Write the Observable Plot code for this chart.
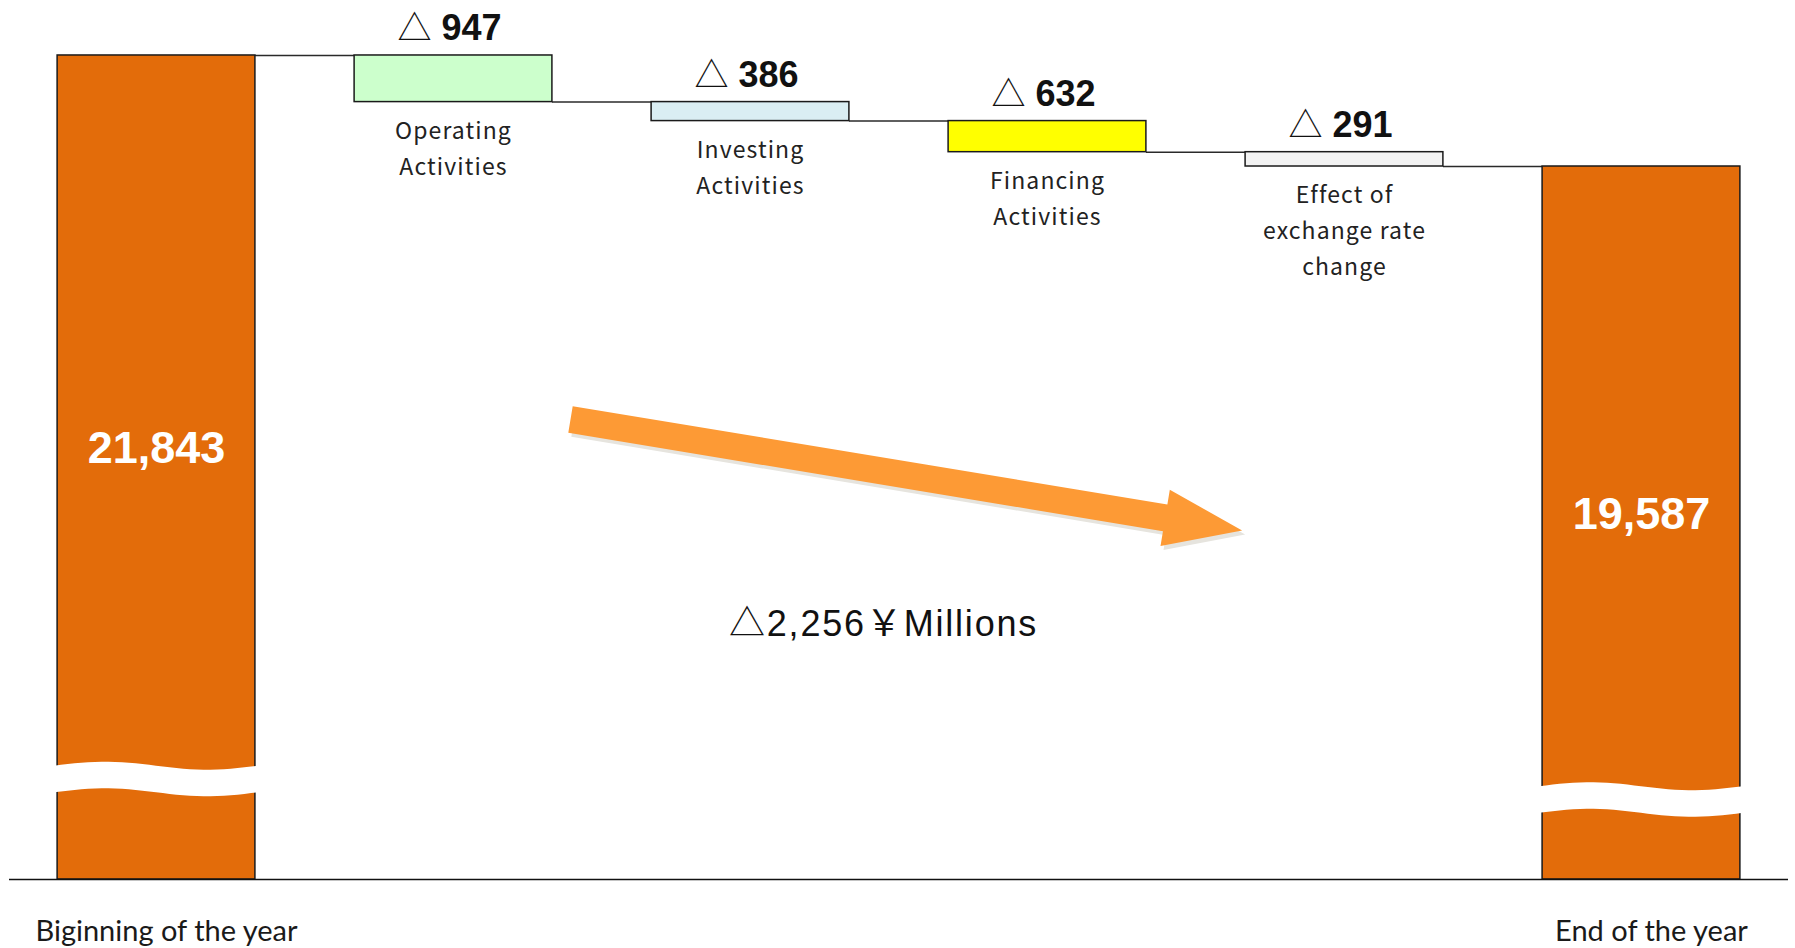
<!DOCTYPE html>
<html>
<head>
<meta charset="utf-8">
<script src="https://cdn.jsdelivr.net/npm/d3@7"></script>
<script src="https://cdn.jsdelivr.net/npm/@observablehq/plot@0.6"></script>
<style>
  html, body { margin: 0; padding: 0; background: #fff; }
</style>
</head>
<body>
<div id="chart"></div>
<script>
// ---------- data ----------
const categories = [
  "Biginning of the year",
  "Operating Activities",
  "Investing Activities",
  "Financing Activities",
  "Effect of exchange rate change",
  "End of the year"
];
const categoryLabels = [
  "Biginning of the year",
  "Operating\nActivities",
  "Investing\nActivities",
  "Financing\nActivities",
  "Effect of\nexchange rate\nchange",
  "End of the year"
];
const openingBalance = 21843;
const changes = [-947, -386, -632, -291];
const closingBalance = 19587;
const unitLabel = "￥Millions";
const minusMark = "△";

// ---------- styles / layout (not data) ----------
const palette = ["#E36C0A", "#CCFFCC", "#DAEEF3", "#FFFF00", "#F2F2F2", "#E36C0A"];
const Y_DOMAIN = [5100, 22960];      // broken value axis
const X_DOMAIN = [-0.495, 5.495];
const HALF = 0.333;                  // half bar width in slot units
const BREAK_LEVELS = {0: 7132, 5: 6715};
const ARROW = {fromX: 1.3956, fromY: 14436, toX: 3.657};
const TOTAL_LABEL_AT = {x: 2.448, y: 10281};

const fmt = d3.format(",");

// ---------- derived tables ----------
let running = openingBalance;
const changeRows = changes.map((c, k) => {
  const top = running;
  running += c;
  return {i: k + 1, name: categories[k + 1], label: categoryLabels[k + 1], top, bottom: running, change: c};
});
const totalRows = [
  {i: 0, name: categories[0], label: categoryLabels[0], value: openingBalance},
  {i: 5, name: categories[5], label: categoryLabels[5], value: closingBalance}
];
const rects = [
  ...totalRows.map(d => ({i: d.i, name: d.name, y1: 0, y2: d.value})),
  ...changeRows.map(d => ({i: d.i, name: d.name, y1: d.bottom, y2: d.top}))
];
const connectors = [
  {from: 0, level: openingBalance},
  ...changeRows.map(d => ({from: d.i, level: d.bottom}))
];
const totalChange = closingBalance - openingBalance;

// break bands (decorative axis-break marks)
function breakBands(index, {x, y}) {
  const g = d3.create("svg:g");
  for (const d of totalRows) {
    const xl = x(d.i - HALF) - 3, xr = x(d.i + HALF) + 3;
    const yc = y(BREAK_LEVELS[d.i]);
    const A = 4, h = 13.3, n = 30;
    const top = [], bot = [];
    for (let k = 0; k <= n; k++) {
      const t = k / n;
      const xx = xl + (xr - xl) * t;
      const w = -A * Math.sin(2 * Math.PI * t);
      top.push([xx, yc - h + w]);
      bot.push([xx, yc + h + w]);
    }
    const pts = top.concat(bot.reverse());
    g.append("path")
      .attr("d", "M" + pts.map(p => p.join(",")).join("L") + "Z")
      .attr("fill", "#fff");
  }
  return g.node();
}

// the big trend arrow
function trendArrow(index, {x, y}) {
  const g = d3.create("svg:g");
  const x0 = x(ARROW.fromX), y0 = y(ARROW.fromY);
  const x1 = x(ARROW.toX), y1 = y(ARROW.fromY + totalChange);
  const dx = x1 - x0, dy = y1 - y0, L = Math.hypot(dx, dy);
  const ux = dx / L, uy = dy / L, nx = -uy, ny = ux;
  const sh = 13.5, hh = 28.5, hl = 78;
  const bx = x1 - ux * hl, by = y1 - uy * hl;
  const pts = [
    [x0 + nx * sh, y0 + ny * sh], [bx + nx * sh, by + ny * sh], [bx + nx * hh, by + ny * hh],
    [x1, y1],
    [bx - nx * hh, by - ny * hh], [bx - nx * sh, by - ny * sh], [x0 - nx * sh, y0 - ny * sh]
  ];
  const d = "M" + pts.map(p => p.join(",")).join("L") + "Z";
  g.append("path").attr("d", d).attr("fill", "#E6E4DE").attr("transform", "translate(3,4)");
  g.append("path").attr("d", d).attr("fill", "#FD9A35");
  return g.node();
}

const chart = Plot.plot({
  width: 1795,
  height: 948,
  marginTop: 0,
  marginBottom: 69,
  marginLeft: 9,
  marginRight: 7,
  x: {type: "linear", domain: X_DOMAIN, axis: null},
  y: {type: "linear", domain: Y_DOMAIN, axis: null, clamp: true},
  color: {type: "ordinal", domain: categories, range: palette},
  marks: [
    Plot.ruleY(connectors, {
      y: "level", x1: d => d.from + HALF, x2: d => d.from + 1 - HALF,
      stroke: "#2a2a2a", strokeWidth: 1.5
    }),
    Plot.rect(rects, {
      x1: d => d.i - HALF, x2: d => d.i + HALF, y1: "y1", y2: "y2",
      fill: "name", stroke: "#1a1a1a", strokeWidth: 1.5
    }),
    Plot.ruleY([0], {stroke: "#111", strokeWidth: 1.5}),
    breakBands,
    trendArrow,
    // [text 0] big totals: centred between the bar top and its axis break
    Plot.text(totalRows, {
      x: "i", y: d => (BREAK_LEVELS[d.i] + d.value) / 2, text: d => fmt(d.value),
      fill: "#fff", fontSize: 45, fontWeight: "bold", fontFamily: "Liberation Sans, Arial, sans-serif", dy: 31
    }),
    // [text 1] period labels under axis
    Plot.text(totalRows, {
      x: "i", y: () => 0, text: "label", dx: 10, dy: 61, lineAnchor: "bottom",
      fill: "#1a1a1a", fontSize: 29, fontFamily: "Lato, sans-serif"
    }),
    // [text 2, 3] change amounts: triangle + number
    Plot.text(changeRows, {
      x: "i", y: "top", text: () => minusMark, textAnchor: "end", lineAnchor: "bottom",
      dx: -22, dy: -15, fill: "#111", fontSize: 34, fontFamily: "Noto Sans CJK JP, sans-serif"
    }),
    Plot.text(changeRows, {
      x: "i", y: "top", text: d => fmt(Math.abs(d.change)), textAnchor: "start", lineAnchor: "bottom",
      dx: -12, dy: -15, fill: "#111", fontSize: 36, fontWeight: "bold", fontFamily: "Liberation Sans, Arial, sans-serif"
    }),
    // [text 4] category labels under change bars
    Plot.text(changeRows, {
      x: "i", y: "bottom", text: "label", lineAnchor: "top", dy: 11, lineHeight: 1.57,
      fill: "#222", fontSize: 23, fontFamily: "Noto Sans CJK JP, sans-serif"
    }),
    // [text 5] total change annotation
    Plot.text([totalChange], {
      x: () => TOTAL_LABEL_AT.x, y: () => TOTAL_LABEL_AT.y,
      text: d => minusMark + fmt(Math.abs(d)) + unitLabel,
      fill: "#111", fontSize: 36, fontFamily: "Liberation Sans, Noto Sans CJK JP, sans-serif"
    })
  ]
});

// letter spacing tweaks (by text-mark order)
const textGroups = chart.querySelectorAll('g[aria-label="text"]');
if (textGroups[4]) textGroups[4].setAttribute("letter-spacing", "1.1");
if (textGroups[5]) textGroups[5].setAttribute("letter-spacing", "1.8");

document.getElementById("chart").appendChild(chart);
</script>
</body>
</html>
